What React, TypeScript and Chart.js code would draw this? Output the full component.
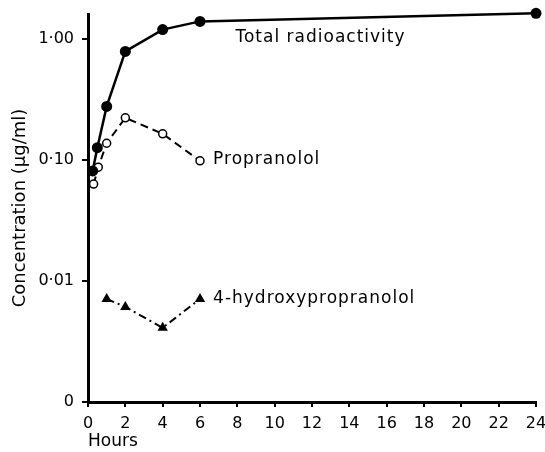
import React, { useEffect, useRef } from "react";
import { Chart, registerables } from "chart.js";

Chart.register(...registerables);

const totalHours = [0.25, 0.5, 1, 2, 4, 6, 24];
const totalValues = [0.081, 0.126, 0.276, 0.785, 1.19, 1.39, 1.62];
const propHours = [0.3, 0.55, 1, 2, 4, 6];
const propValues = [0.063, 0.087, 0.137, 0.222, 0.164, 0.098];
const hydroxyHours = [1, 2, 4, 6];
const hydroxyValues = [0.0071, 0.0061, 0.0041, 0.0071];

const yTickValues = [0.001, 0.01, 0.1, 1];
const yTickLabels = ["0", "0·01", "0·10", "1·00"];

const seriesNames = ["Total radioactivity", "Propranolol", "4-hydroxypropranolol"];
// label anchor in data space (hours, concentration)
const labelHours = [7.9, 6.7, 6.7];
const labelValues = [1.03, 0.1, 0.0072];

const FONT = "'DejaVu Sans', sans-serif";

const toPts = (xs: number[], ys: number[]) => xs.map((x, i) => ({ x, y: ys[i] }));

const labelPlugin = {
  id: "seriesLabels",
  afterDatasetsDraw(chart: any) {
    const { ctx, scales } = chart;
    ctx.save();
    ctx.fillStyle = "#000";
    ctx.font = `17px ${FONT}`;
    (ctx as any).letterSpacing = "1px";
    ctx.textAlign = "left";
    ctx.textBaseline = "middle";
    seriesNames.forEach((name, i) => {
      const px = scales.x.getPixelForValue(labelHours[i]);
      const py = scales.y.getPixelForValue(labelValues[i]);
      ctx.fillText(name, px, py);
    });
    ctx.restore();
  },
};

export default function App() {
  const ref = useRef<HTMLCanvasElement | null>(null);
  useEffect(() => {
    document.body.style.margin = "0";
    const chart = new Chart(ref.current as HTMLCanvasElement, {
      type: "scatter",
      data: {
        datasets: [
          {
            label: seriesNames[0],
            data: toPts(totalHours, totalValues),
            showLine: true,
            borderColor: "#000",
            borderWidth: 2.5,
            backgroundColor: "#000",
            pointStyle: "circle",
            pointRadius: 5.5,
            pointBorderWidth: 0,
          },
          {
            label: seriesNames[1],
            data: toPts(propHours, propValues),
            showLine: true,
            borderColor: "#000",
            borderWidth: 2,
            borderDash: [8, 5],
            backgroundColor: "#fff",
            pointBackgroundColor: "#fff",
            pointBorderColor: "#000",
            pointStyle: "circle",
            pointRadius: 4,
            pointBorderWidth: 1.5,
          },
          {
            label: seriesNames[2],
            data: toPts(hydroxyHours, hydroxyValues),
            showLine: true,
            borderColor: "#000",
            borderWidth: 2,
            borderDash: [8, 4, 2, 4],
            backgroundColor: "#000",
            pointStyle: "triangle",
            pointRadius: 6,
            pointBorderWidth: 0,
          },
        ],
      },
      options: {
        animation: false,
        responsive: false,
        clip: false as any,
        layout: { padding: { top: 14, right: 9, left: 0, bottom: 0 } },
        plugins: { legend: { display: false }, tooltip: { enabled: false } },
        scales: {
          x: {
            type: "linear",
            min: 0,
            max: 24,
            ticks: { stepSize: 2, color: "#000", font: { family: FONT, size: 16 }, padding: 7 },
            grid: { drawOnChartArea: false, drawTicks: true, tickLength: 5, color: "#000", lineWidth: 2 },
            border: { color: "#000", width: 3 },
            title: {
              display: true,
              text: "Hours",
              align: "start",
              color: "#000",
              font: { family: FONT, size: 17 },
              padding: { top: 0, bottom: 0 },
            },
            afterFit(scale: any) {
              scale.height = 50;
              scale.paddingLeft = 0;
              scale.paddingRight = 0;
            },
          },
          y: {
            type: "logarithmic",
            min: 0.001,
            max: 1.6,
            afterBuildTicks(scale: any) {
              scale.ticks = yTickValues.map((v) => ({ value: v }));
            },
            ticks: {
              color: "#000",
              font: { family: FONT, size: 16 },
              padding: 8,
              callback: (v: any) => {
                const i = yTickValues.findIndex((t) => Math.abs(t - Number(v)) < 1e-9);
                return i >= 0 ? yTickLabels[i] : "";
              },
            },
            grid: { drawOnChartArea: false, drawTicks: true, tickLength: 6, color: "#000", lineWidth: 2 },
            border: { color: "#000", width: 3 },
            title: {
              display: true,
              text: "Concentration (μg/ml)",
              color: "#000",
              font: { family: FONT, size: 18 },
              padding: { top: 10, bottom: 0 },
            },
            afterFit(scale: any) {
              scale.width = 88;
              scale.paddingTop = 0;
              scale.paddingBottom = 0;
            },
          },
        },
      },
      plugins: [labelPlugin],
    });
    return () => chart.destroy();
  }, []);
  return (
    <div style={{ position: "absolute", left: 0, top: 0, width: 545, height: 452 }}>
      <canvas ref={ref} width={545} height={452} />
    </div>
  );
}
